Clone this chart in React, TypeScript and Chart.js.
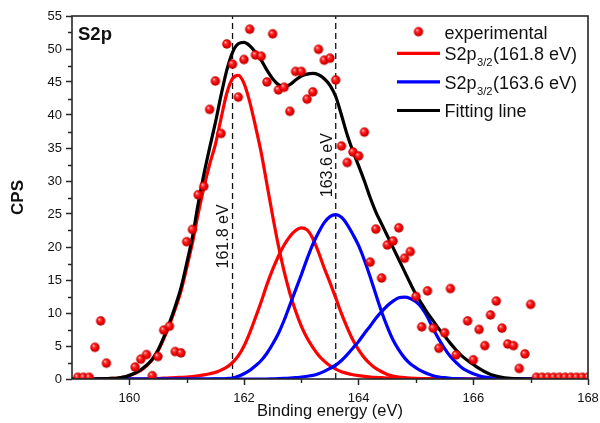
import React, { useEffect, useRef } from 'react';
import { Chart, registerables } from 'chart.js';

Chart.register(...registerables);

// ---------- data ----------
const expX = [
  159.1, 159.2, 159.3, 159.4, 159.5, 159.6,
  160.1, 160.2, 160.3, 160.4, 160.5, 160.6, 160.7, 160.8, 160.9,
  161.0, 161.1, 161.2, 161.3, 161.4, 161.5, 161.6, 161.7, 161.8, 161.9,
  162.0, 162.1, 162.2, 162.3, 162.4, 162.5, 162.6, 162.7, 162.8, 162.9,
  163.0, 163.1, 163.2, 163.3, 163.4, 163.5, 163.6, 163.7, 163.8, 163.9,
  164.0, 164.1, 164.2, 164.3, 164.4, 164.5, 164.6, 164.7, 164.8, 164.9,
  165.0, 165.1, 165.2, 165.3, 165.4, 165.5, 165.6, 165.7, 165.9,
  166.0, 166.1, 166.2, 166.3, 166.4, 166.5, 166.6, 166.7, 166.8, 166.9,
  167.0, 167.1, 167.2, 167.3, 167.4, 167.5, 167.6, 167.7, 167.8, 167.9, 168.0,
];
const expY = [
  0.25, 0.25, 0.25, 4.8, 8.8, 2.4,
  1.8, 3.0, 3.7, 0.5, 3.4, 7.4, 8.0, 4.15, 3.95,
  20.8, 22.65, 27.9, 29.2, 40.85, 45.15, 37.2, 50.76, 47.7, 42.7,
  48.4, 53.0, 49.1, 48.9, 45.0, 52.3, 43.8, 44.2, 40.55, 46.6,
  46.6, 42.4, 43.5, 49.95, 48.3, 48.6, 45.3, 35.3, 32.8, 34.4,
  33.8, 37.4, 17.7, 22.7, 15.3, 20.3, 20.9, 22.9, 18.3, 19.3,
  12.5, 7.9, 13.35, 7.7, 4.65, 7.0, 13.7, 3.65, 8.8,
  2.9, 7.5, 5.05, 9.7, 11.8, 7.7, 5.3, 5.05, 1.6, 3.8,
  11.3, 0.25, 0.25, 0.25, 0.25, 0.25, 0.25, 0.25, 0.25, 0.25, 0.25,
];

const curveX = [
  159.0, 159.1, 159.2, 159.3, 159.4, 159.5, 159.6, 159.7, 159.8, 159.9,
  160.0, 160.1, 160.2, 160.3, 160.4, 160.5, 160.6, 160.7, 160.8, 160.9,
  161.0, 161.1, 161.2, 161.3, 161.4, 161.5, 161.6, 161.7, 161.8, 161.9,
  162.0, 162.1, 162.2, 162.3, 162.4, 162.5, 162.6, 162.7, 162.8, 162.9,
  163.0, 163.1, 163.2, 163.3, 163.4, 163.5, 163.6, 163.7, 163.8, 163.9,
  164.0, 164.1, 164.2, 164.3, 164.4, 164.5, 164.6, 164.7, 164.8, 164.9,
  165.0, 165.1, 165.2, 165.3, 165.4, 165.5, 165.6, 165.7, 165.8, 165.9,
  166.0, 166.1, 166.2, 166.3, 166.4, 166.5, 166.6, 166.7, 166.8, 166.9,
  167.0, 167.1, 167.2, 167.3, 167.4, 167.5, 167.6, 167.7, 167.8, 167.9,
  168.0,
];

const fitY = [
  0, 0, 0, 0, 0, 0.02, 0.05, 0.1, 0.15, 0.3,
  0.55, 0.9, 1.4, 2.1, 3.0, 4.4, 6.3, 8.5, 11.0, 13.8,
  17.5, 21.5, 26.5, 31.0, 35.0, 38.8, 43.0, 46.8, 49.5, 50.8,
  51.0, 50.5, 49.5, 48.3, 46.8, 45.5, 44.6, 44.3, 44.6, 45.3,
  45.9, 46.2, 46.3, 46.1, 45.5, 44.5, 42.8, 40.0, 37.0, 34.5,
  32.3, 30.0, 27.5, 25.3, 23.5, 21.7, 19.9, 18.1, 16.3, 14.5,
  12.8, 11.4, 10.0, 8.8, 7.6, 6.5, 5.4, 4.4, 3.5, 2.8,
  2.2, 1.6, 1.1, 0.7, 0.45, 0.25, 0.12, 0.05, 0.02, 0,
  0, 0, 0, 0, 0, 0, 0, 0, 0, 0,
  0,
];

const s2p1618Y = [
  0, 0, 0, 0, 0, 0.02, 0.04, 0.08, 0.14, 0.28,
  0.5, 0.85, 1.3, 2.0, 2.9, 4.25, 6.1, 8.2, 10.6, 13.3,
  16.8, 20.6, 25.0, 29.0, 32.5, 35.5, 39.5, 43.3, 45.5, 46.0,
  44.8, 42.0, 38.3, 34.3, 29.5, 24.7, 20.2, 16.3, 13.0, 10.3,
  8.0, 6.2, 4.8, 3.6, 2.7, 2.0, 1.5, 1.1, 0.85, 0.65,
  0.5, 0.4, 0.3, 0.24, 0.2, 0.15, 0.12, 0.1, 0.08, 0.06,
  0.05, 0.04, 0.03, 0.02, 0.02, 0.01, 0, 0, 0, 0,
  0, 0, 0, 0, 0, 0, 0, 0, 0, 0,
  0, 0, 0, 0, 0, 0, 0, 0, 0, 0,
  0,
];

const s2p1630Y = [
  0, 0, 0, 0, 0, 0, 0, 0, 0, 0,
  0, 0, 0, 0, 0.02, 0.06, 0.12, 0.16, 0.2, 0.25,
  0.3, 0.38, 0.48, 0.62, 0.8, 1.0, 1.35, 1.8, 2.5, 3.5,
  5.0, 7.0, 9.3, 11.7, 14.3, 16.6, 18.6, 20.3, 21.6, 22.5,
  22.9, 22.6, 21.3, 19.2, 16.8, 14.6, 12.3, 9.9, 7.8, 5.9,
  4.4, 3.2, 2.3, 1.6, 1.1, 0.7, 0.45, 0.3, 0.2, 0.14,
  0.1, 0.07, 0.05, 0.03, 0.02, 0.01, 0, 0, 0, 0,
  0, 0, 0, 0, 0, 0, 0, 0, 0, 0,
  0, 0, 0, 0, 0, 0, 0, 0, 0, 0,
  0,
];

const s2p1636Y = [
  0, 0, 0, 0, 0, 0, 0, 0, 0, 0,
  0, 0, 0, 0, 0, 0, 0, 0, 0, 0,
  0, 0, 0, 0, 0, 0.02, 0.04, 0.08, 0.15, 0.4,
  0.8, 1.3, 2.0, 2.8, 3.9, 5.3, 6.9, 8.9, 11.2, 13.5,
  15.8, 18.2, 20.4, 22.2, 23.7, 24.6, 24.9, 24.5, 23.4, 21.9,
  20.2, 18.0, 15.5, 12.8, 10.2, 7.9, 5.9, 4.4, 3.2, 2.3,
  1.7, 1.2, 0.8, 0.5, 0.3, 0.2, 0.1, 0.05, 0.02, 0,
  0, 0, 0, 0, 0, 0, 0, 0, 0, 0,
  0, 0, 0, 0, 0, 0, 0, 0, 0, 0,
  0,
];

const s2p1648Y = [
  0, 0, 0, 0, 0, 0, 0, 0, 0, 0,
  0, 0, 0, 0, 0, 0, 0, 0, 0, 0,
  0, 0, 0, 0, 0, 0, 0, 0, 0, 0,
  0, 0, 0, 0, 0, 0.03, 0.05, 0.08, 0.13, 0.2,
  0.3, 0.42, 0.55, 0.8, 1.15, 1.6, 2.1, 2.8, 3.7, 4.7,
  5.7, 6.9, 8.0, 9.2, 10.2, 11.1, 11.8, 12.3, 12.4, 12.2,
  11.7, 10.8, 9.4, 7.6, 6.0, 4.6, 3.4, 2.5, 1.7, 1.2,
  0.8, 0.5, 0.3, 0.18, 0.1, 0.05, 0.02, 0, 0, 0,
  0, 0, 0, 0, 0, 0, 0, 0, 0, 0,
  0,
];

const peakPositions = [161.8, 163.6];
const xTicks = [160, 162, 164, 166, 168];
const xMinorTicks = [161, 163, 165, 167];
const yTicks = [0, 5, 10, 15, 20, 25, 30, 35, 40, 45, 50, 55];
const yMinorTicks = [2.5, 7.5, 12.5, 17.5, 22.5, 27.5, 32.5, 37.5, 42.5, 47.5, 52.5];

const FAMILY = "'Liberation Sans', Arial, Helvetica, sans-serif";
const AXIS = '#262626';
const TXT = '#111111';

function makeBall(r: number): HTMLCanvasElement {
  const c = document.createElement('canvas');
  const s = Math.ceil(r * 2) + 2;
  c.width = s;
  c.height = s;
  const g = c.getContext('2d')!;
  const cx = s / 2;
  const cy = s / 2;
  const grad = g.createRadialGradient(cx - r * 0.35, cy - r * 0.4, r * 0.05, cx, cy, r);
  grad.addColorStop(0, '#ffe0e0');
  grad.addColorStop(0.25, '#ff3a3a');
  grad.addColorStop(0.65, '#f00000');
  grad.addColorStop(1, '#b00000');
  g.fillStyle = grad;
  g.beginPath();
  g.arc(cx, cy, r, 0, Math.PI * 2);
  g.fill();
  return c;
}

const pts = (ys: number[]) => curveX.map((x, i) => ({ x, y: ys[i] }));

function drawRich(ctx: CanvasRenderingContext2D, text: string, x: number, y: number, size: number) {
  const m = text.match(/^(.*)_\{(.*)\}(.*)$/);
  ctx.textAlign = 'left';
  ctx.textBaseline = 'alphabetic';
  ctx.font = `${size}px ${FAMILY}`;
  if (!m) {
    ctx.fillText(text, x, y);
    return false;
  }
  ctx.fillText(m[1], x, y);
  let cx = x + ctx.measureText(m[1]).width + 0.5;
  ctx.font = `${size * 0.62}px ${FAMILY}`;
  ctx.fillText(m[2], cx, y + 6);
  cx += ctx.measureText(m[2]).width + 0.5;
  ctx.font = `${size}px ${FAMILY}`;
  ctx.fillText(m[3], cx, y);
  return true;
}

const decorPlugin = {
  id: 'decor',
  afterDraw(chart: any) {
    const { ctx, chartArea: a, scales } = chart;
    const xs = scales.x;
    const ys = scales.y;
    ctx.save();
    // frame
    ctx.strokeStyle = AXIS;
    ctx.lineWidth = 1.6;
    ctx.strokeRect(a.left, a.top, a.right - a.left, a.bottom - a.top);
    // minor ticks
    ctx.lineWidth = 1.4;
    ctx.beginPath();
    xMinorTicks.forEach((v) => {
      const px = Math.round(xs.getPixelForValue(v)) + 0.5;
      ctx.moveTo(px, a.bottom);
      ctx.lineTo(px, a.bottom + 4);
    });
    yMinorTicks.forEach((v) => {
      const py = Math.round(ys.getPixelForValue(v)) + 0.5;
      ctx.moveTo(a.left, py);
      ctx.lineTo(a.left - 4, py);
    });
    ctx.stroke();

    // panel label
    ctx.fillStyle = TXT;
    ctx.font = `bold 18.5px ${FAMILY}`;
    ctx.textAlign = 'left';
    ctx.textBaseline = 'alphabetic';
    ctx.fillText('S2p', a.left + 6, a.top + 23.5);

    // peak labels
    const levels = [21.6, 32.4];
    peakPositions.forEach((p, i) => {
      const px = xs.getPixelForValue(p) - 8.5;
      const py = ys.getPixelForValue(levels[i]);
      ctx.save();
      ctx.translate(px, py);
      ctx.rotate(-Math.PI / 2);
      ctx.textAlign = 'center';
      ctx.textBaseline = 'middle';
      ctx.font = `16px ${FAMILY}`;
      ctx.fillStyle = TXT;
      ctx.fillText(`${p.toFixed(1)} eV`, 0, 0);
      ctx.restore();
    });

    // legend
    const items = chart.data.datasets.filter((d: any) => d.label && !d.label.startsWith('_'));
    let ly = a.top + 15.7;
    const x0 = a.right - 191;
    const x1 = a.right - 148;
    const tx = a.right - 143.5;
    items.forEach((d: any) => {
      if (d.showLine === false) {
        const img = d.pointStyle as HTMLCanvasElement;
        ctx.drawImage(img, (x0 + x1) / 2 - img.width / 2, ly - img.height / 2);
      } else {
        ctx.strokeStyle = d.borderColor;
        ctx.lineWidth = 3.2;
        ctx.beginPath();
        ctx.moveTo(x0, ly);
        ctx.lineTo(x1, ly);
        ctx.stroke();
      }
      ctx.fillStyle = TXT;
      const sub = drawRich(ctx, d.label, tx, ly + 6.8, 18);
      ly += 21.6 + (sub ? 7 : 0);
    });
    ctx.restore();
  },
};

export default function App() {
  const ref = useRef<HTMLCanvasElement>(null);
  useEffect(() => {
    if (!ref.current) return;
    const ball = makeBall(4.7);
    const line = (label: string, ys: number[], color: string, order: number) => ({
      label,
      data: pts(ys),
      showLine: true,
      borderColor: color,
      backgroundColor: color,
      borderWidth: 3.2,
      pointRadius: 0,
      pointHoverRadius: 0,
      cubicInterpolationMode: 'monotone' as const,
      order,
    });
    const dash = (p: number) => ({
      label: '_peak',
      data: [
        { x: p, y: 0 },
        { x: p, y: 55 },
      ],
      showLine: true,
      borderColor: '#111',
      borderWidth: 1.3,
      borderDash: [6, 4],
      pointRadius: 0,
      order: 10,
    });
    const chart = new Chart(ref.current, {
      type: 'scatter',
      data: {
        datasets: [
          {
            label: 'experimental',
            data: expX.map((x, i) => ({ x, y: expY[i] })),
            showLine: false,
            pointStyle: ball as any,
            pointRadius: 4.7,
            backgroundColor: '#ff0000',
            borderColor: '#ff0000',
            order: 0,
          } as any,
          line('S2p_{3/2}(161.8 eV)', s2p1618Y, '#ff0000', 6),
          line('S2p_{3/2}(163.6 eV)', s2p1636Y, '#0000ff', 4),
          line('Fitting line', fitY, '#000000', 1),
          line('_S2p 163.0', s2p1630Y, '#ff0000', 7),
          line('_S2p 164.8', s2p1648Y, '#0000ff', 3),
          ...peakPositions.map(dash),
        ],
      },
      options: {
        animation: false,
        responsive: false,
        events: [],
        layout: { padding: { top: 16, right: 12, left: 0, bottom: 0 } },
        plugins: {
          legend: { display: false },
          tooltip: { enabled: false },
        },
        scales: {
          x: {
            type: 'linear',
            min: 159,
            max: 168,
            afterBuildTicks: (s: any) => {
              s.ticks = xTicks.map((v) => ({ value: v }));
            },
            afterFit: (s: any) => {
              s.height = 44;
              s.paddingLeft = 0;
              s.paddingRight = 0;
            },
            grid: {
              drawOnChartArea: false,
              drawTicks: true,
              tickLength: 6,
              tickColor: AXIS,
              tickWidth: 1.5,
            },
            border: { display: false },
            ticks: {
              color: TXT,
              font: { family: FAMILY, size: 13 },
              padding: 6,
              maxRotation: 0,
              autoSkip: false,
            },
            title: {
              display: true,
              text: 'Binding energy (eV)',
              color: TXT,
              font: { family: FAMILY, size: 16.5 },
              padding: { top: 0, bottom: 1.5 },
            },
          },
          y: {
            type: 'linear',
            min: 0,
            max: 55,
            afterBuildTicks: (s: any) => {
              s.ticks = yTicks.map((v) => ({ value: v }));
            },
            afterFit: (s: any) => {
              s.width = 72;
              s.paddingTop = 0;
              s.paddingBottom = 0;
            },
            grid: {
              drawOnChartArea: false,
              drawTicks: true,
              tickLength: 6,
              tickColor: AXIS,
              tickWidth: 1.5,
            },
            border: { display: false },
            ticks: {
              color: TXT,
              font: { family: FAMILY, size: 13 },
              padding: 4,
              autoSkip: false,
            },
            title: {
              display: true,
              text: 'CPS',
              color: TXT,
              font: { family: FAMILY, size: 17, weight: 'bold' },
              padding: { top: 8, bottom: 0 },
            },
          },
        },
      } as any,
      plugins: [decorPlugin],
    });
    return () => chart.destroy();
  }, []);
  return (
    <div style={{ position: 'absolute', left: 0, top: 0, width: 600, height: 423 }}>
      <canvas ref={ref} width={600} height={423} style={{ display: 'block' }} />
    </div>
  );
}
